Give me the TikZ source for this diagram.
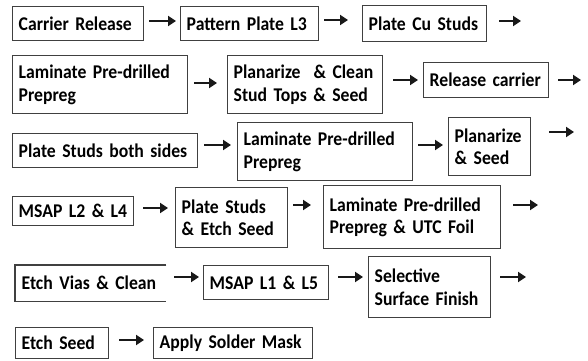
\documentclass[tikz,border=0pt]{standalone}
\usepackage{fontspec}
\setmainfont{Carlito}[FakeStretch=0.91]
\usetikzlibrary{arrows.meta}

\tikzset{
  pbox/.style={draw=black!75, line width=1.4bp, inner xsep=6bp, inner ysep=0bp,
    align=left, text=black, font=\bfseries\fontsize{19.5}{22.5}\selectfont},
  openbox/.style={pbox, draw=none},
  arr/.style={line width=2.8bp, -{Triangle[length=8bp,width=10bp]}, black!90}
}

% name, left, top, width, height, text
\newcommand\procbox[7][pbox]{%
  \pgfmathsetmacro\tw{#5-12}%
  \node[#1, anchor=north west, minimum width=#5bp, minimum height=#6bp,
        text width=\tw bp] (#2) at (#3,#4) {#7};}

\begin{document}
\begin{tikzpicture}[x=1bp,y=-1bp]
\useasboundingbox (0,0) rectangle (588,360);

% row 1
\procbox{cr}{12}{6}{131}{34}{Carrier Release}
\procbox{pp}{180}{6}{138}{34}{Pattern Plate L3}
\procbox{pc}{362}{5}{124}{36}{Plate Cu Studs}
\coordinate (e1) at (521,21);

% row 2
\procbox{lp}{12}{55}{175}{58}{Laminate Pre-drilled\\Prepreg}
\procbox{pl}{227}{55}{155}{58}{Planarize \ \& Clean\\Stud Tops \& Seed}
\procbox{rc}{423}{62}{125}{35}{Release carrier}
\coordinate (e2) at (581,80);

% row 3
\procbox{ps}{12}{133}{185}{34}{Plate Studs both sides}
\procbox{lq}{237}{122}{175}{58}{Laminate Pre-drilled\\Prepreg}
\procbox{pz}{448}{117}{82}{58}{Planarize\\\& Seed}
\coordinate (e3) at (574,132);

% row 4
\procbox{m24}{12}{196}{121}{29}{MSAP L2 \& L4}
\procbox{pe}{175}{187}{112}{60}{Plate Studs\\\& Etch Seed}
\procbox{lu}{323}{185}{177}{63}{Laminate Pre-drilled\\Prepreg \& UTC Foil}
\coordinate (e4) at (538,205);

% row 5
\procbox[openbox]{ev}{15}{265}{150}{35}{Etch Vias \& Clean}
\draw[black!75, line width=1.4bp] (ev.north east) -- (ev.north west)
  -- (ev.south west) -- (ev.south east);
\procbox{m15}{203}{265}{125}{34}{MSAP L1 \& L5}
\procbox{sf}{368}{256}{122}{61}{Selective\\Surface Finish}
\coordinate (e5) at (526,277);

% row 6
\procbox{es}{15}{327}{93}{31}{Etch Seed}
\procbox{sm}{153}{327}{159}{31}{Apply Solder Mask}

% connectors
\draw[arr] ([xshift=5bp]cr.east |- 0,21) -- ([xshift=-4bp]pp.west |- 0,21);
\draw[arr] ([xshift=5bp]pp.east |- 0,20) -- ([xshift=-14bp]pc.west |- 0,20);
\draw[arr] ([xshift=12bp]pc.east |- e1) -- (e1);

\draw[arr] ([xshift=6bp]lp.east |- 0,83) -- ([xshift=-10bp]pl.west |- 0,83);
\draw[arr] ([xshift=10bp]pl.east |- 0,80) -- ([xshift=-5bp]rc.west |- 0,80);
\draw[arr] ([xshift=9bp]rc.east |- e2) -- (e2);

\draw[arr] ([xshift=6bp]ps.east |- 0,145) -- ([xshift=-6bp]lq.west |- 0,145);
\draw[arr] ([xshift=5bp]lq.east |- 0,145) -- ([xshift=-5bp]pz.west |- 0,145);
\draw[arr] ([xshift=18bp]pz.east |- e3) -- (e3);

\draw[arr] ([xshift=9bp]m24.east |- 0,208) -- ([xshift=-7bp]pe.west |- 0,208);
\draw[arr] ([xshift=5bp]pe.east |- 0,205) -- ([xshift=-12bp]lu.west |- 0,205);
\draw[arr] ([xshift=12bp]lu.east |- e4) -- (e4);

\draw[arr] ([xshift=8bp]ev.east |- 0,277) -- ([xshift=-4bp]m15.west |- 0,277);
\draw[arr] ([xshift=9bp]m15.east |- 0,277) -- ([xshift=-5bp]sf.west |- 0,277);
\draw[arr] ([xshift=9bp]sf.east |- e5) -- (e5);

\draw[arr] ([xshift=10bp]es.east |- 0,340) -- ([xshift=-9bp]sm.west |- 0,340);
\end{tikzpicture}
\end{document}
